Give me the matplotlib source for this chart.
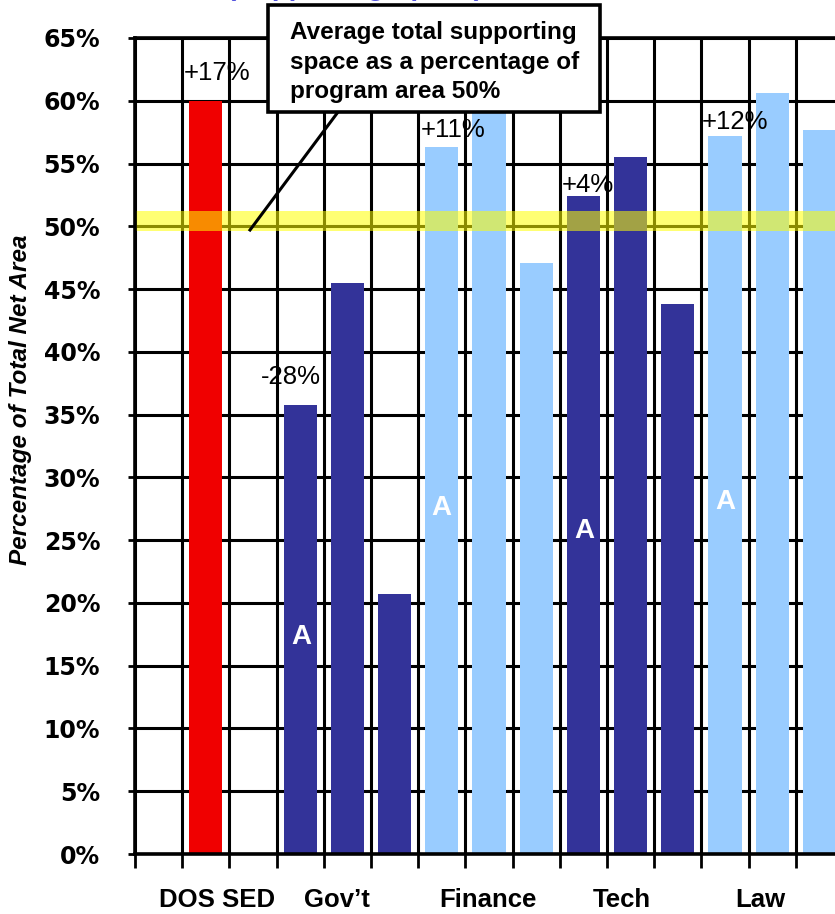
import matplotlib
matplotlib.use("Agg")
import matplotlib.pyplot as plt
from matplotlib.patches import Rectangle
from matplotlib.lines import Line2D

# bar values (percent of total net area), one per slot; None = empty slot
values = [None, 60.0, None, 35.8, 45.5, 20.7, 56.3, 61.0, 47.1, 52.4, 55.5, 43.8, 57.2, 60.6, 57.7]
kinds = [None, "dos", None, "dark", "dark", "dark", "light", "light", "light",
         "dark", "dark", "dark", "light", "light", "light"]
colors = {"dos": "#f00000", "dark": "#333399", "light": "#99ccff"}

groups = ["DOS SED", "Gov\u2019t", "Finance", "Tech", "Law"]
group_x = [1.24, 3.78, 6.98, 9.82, 12.74]

diffs = ["+17%", "-28%", "+11%", "+4%", "+12%"]
diff_xy = [(1.24, 62.2), (2.80, 38.0), (6.24, 57.7), (9.10, 53.3), (12.21, 58.3)]

a_xy = [(3.02, 17.3), (6.0, 27.6), (9.01, 25.7), (12.0, 28.0)]

yticks = list(range(0, 70, 5))
avg_line = 50

W, H = 835, 914
fig = plt.figure(figsize=(W / 100, H / 100), dpi=100)
ax = fig.add_axes([135 / W, (H - 854) / H, 708 / W, 816 / H])

xs = [i for i, v in enumerate(values) if v is not None]
hs = [v for v in values if v is not None]
cs = [colors[k] for k in kinds if k is not None]
ax.bar(xs, hs, width=0.70, color=cs, zorder=3)

ax.set_xlim(-0.5, len(values) - 0.5)
ax.set_ylim(0, 65)

# grid: horizontal at every tick, vertical at slot boundaries
for y in yticks:
    ax.axhline(y, color="black", lw=2.2, zorder=1)
for i in range(len(values) + 1):
    ax.axvline(i - 0.5, color="black", lw=2.2, zorder=1)

# yellow highlight band for the average
ax.axhspan(avg_line - 0.4, avg_line + 1.2, color="#ffff00", alpha=0.55, lw=0, zorder=4)

for sp in ax.spines.values():
    sp.set_linewidth(2.6)
    sp.set_zorder(5)

ax.set_yticks(yticks)
ax.set_yticklabels([f"{t}%" for t in yticks], fontfamily="DejaVu Sans",
                   fontweight="bold", fontsize=17)
ax.tick_params(axis="y", direction="out", length=5, width=2, pad=20)
ax.set_xticks([i - 0.5 for i in range(len(values) + 1)])
ax.set_xticklabels([])
ax.tick_params(axis="x", direction="out", length=10, width=2)

for g, gx in zip(groups, group_x):
    ax.text(gx, -3.65, g, ha="center", va="center", fontsize=18.5, fontweight="bold",
            fontfamily="Liberation Sans", clip_on=False)

for t, (x, y) in zip(diffs, diff_xy):
    ax.text(x, y, t, ha="center", va="center", fontsize=18.5,
            fontfamily="Liberation Sans", zorder=6)

for x, y in a_xy:
    ax.text(x, y, "A", ha="center", va="center", fontsize=20, fontweight="bold",
            color="white", fontfamily="Liberation Sans", zorder=6)

fig.text(21 / W, 1 - 400 / H, "Percentage of Total Net Area", rotation=90,
         ha="center", va="center", fontsize=17.5, fontweight="bold", style="italic",
         fontfamily="Liberation Sans")

# clipped title remnant at the top edge (only descenders show)
fig.text(355 / W, 1 + 5 / H, "(Supporting Space)", ha="center", va="baseline",
         fontsize=20, fontweight="bold", color="#5555dd", fontfamily="Liberation Sans")

# callout box with leader line
fig.add_artist(Line2D([250 / W, 338 / W], [1 - 230 / H, 1 - 112 / H],
                      transform=fig.transFigure, color="black", lw=2.2, zorder=7))
fig.add_artist(Rectangle((268 / W, 1 - 112 / H), 332 / W, 107 / H,
                         transform=fig.transFigure, facecolor="white",
                         edgecolor="black", lw=2.6, zorder=8))
fig.text(290 / W, 1 - 62 / H,
         "Average total supporting\nspace as a percentage of\nprogram area 50%",
         ha="left", va="center", fontsize=17.5, fontweight="bold",
         fontfamily="Liberation Sans", linespacing=1.38, zorder=9)

fig.savefig("out.png", dpi=100)
